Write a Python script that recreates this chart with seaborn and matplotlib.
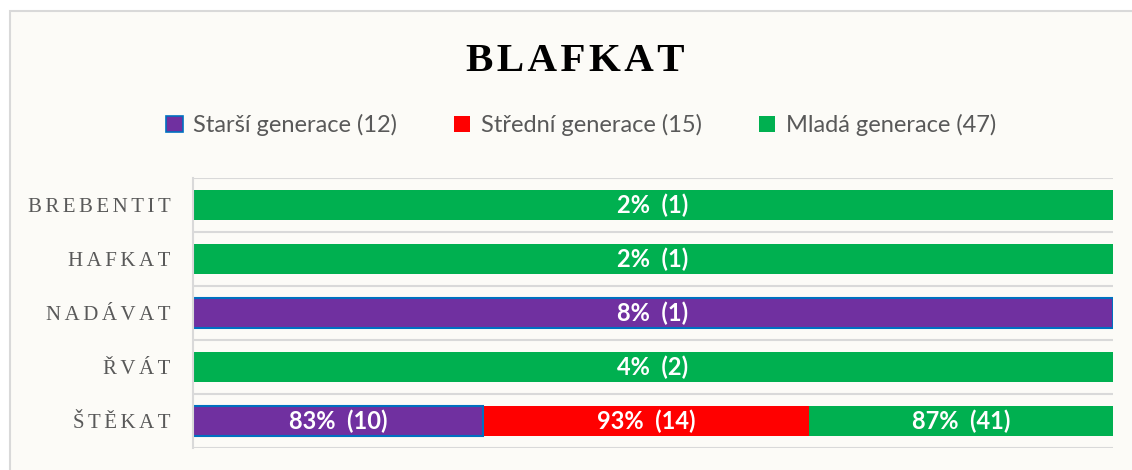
import matplotlib
matplotlib.use("Agg")
import matplotlib.pyplot as plt
from matplotlib.patches import Rectangle, Patch
import numpy as np
import pandas as pd
import seaborn as sns

# Words (rows, top to bottom) and share of each generation using them
words = ["BREBENTIT", "HAFKAT", "NADÁVAT", "ŘVÁT", "ŠTĚKAT"]
groups = ["Starší generace (12)", "Střední generace (15)", "Mladá generace (47)"]
starsi_pct = [0, 0, 8, 0, 83]
starsi_n = [0, 0, 1, 0, 10]
stredni_pct = [0, 0, 0, 0, 93]
stredni_n = [0, 0, 0, 0, 14]
mlada_pct = [2, 2, 0, 4, 87]
mlada_n = [1, 1, 0, 2, 41]

colors = ["#7030A0", "#FF0000", "#00B050"]
edge_colors = ["#0070C0", "none", "none"]

BG = "#FCFBF7"
GRID = "#D9D9D9"
TEXT_GRAY = "#595959"

sns.set_theme(style="white")
plt.rcParams["font.family"] = ["Lato", "DejaVu Sans"]

pct = np.array([starsi_pct, stredni_pct, mlada_pct], dtype=float)
cnt = np.array([starsi_n, stredni_n, mlada_n])
# 100 % stacked: each row normalised to its total
share = pct / pct.sum(axis=0) * 100
cum = np.cumsum(share, axis=0)

fig = plt.figure(figsize=(11.32, 4.70), dpi=100, facecolor="white")
fig.patches.append(Rectangle((10 / 1132, -0.05), 1.1, 1 - 11 / 470 + 0.05,
                             transform=fig.transFigure, facecolor=BG,
                             edgecolor=GRID, linewidth=1.5, zorder=-10))

ax = fig.add_axes([193 / 1132, 1 - 448 / 470, (1113 - 193) / 1132, 270 / 470])
ax.set_facecolor(BG)
ax.patch.set_alpha(0)

# Draw cumulative layers from the widest down so each segment shows its share
for i in range(2, -1, -1):
    df = pd.DataFrame({"word": words, "value": cum[i]})
    sns.barplot(data=df, x="value", y="word", orient="h", color=colors[i],
                saturation=1, width=0.555, ax=ax,
                edgecolor=edge_colors[i], linewidth=1.5 if i == 0 else 0)

# Segment labels
for i in range(3):
    for r in range(len(words)):
        if pct[i, r] > 0:
            left = cum[i, r] - share[i, r]
            ax.text(left + share[i, r] / 2, r, f"{int(pct[i, r])}%  ({cnt[i, r]})",
                    ha="center", va="center", color="white",
                    fontsize=17, fontweight="bold", family=["Lato", "DejaVu Sans"])

ax.set_xlim(0, 100)
ax.set_ylim(4.5, -0.5)
ax.set_xlabel("")
ax.set_ylabel("")
ax.set_xticks([])
ax.set_yticks(range(len(words)))
hair = "\u200a"
ax.set_yticklabels([(hair * 2).join(w) for w in words],
                   family=["Liberation Serif", "DejaVu Serif"], fontsize=15,
                   color=TEXT_GRAY)
ax.tick_params(axis="y", length=0, pad=16)
ax.set_yticks(np.arange(-0.5, len(words)), minor=True)
ax.tick_params(axis="y", which="minor", length=0)
ax.grid(axis="y", which="minor", color=GRID, linewidth=1.5)
ax.grid(axis="y", which="major", visible=False)
ax.set_axisbelow(True)
for s in ["top", "right", "bottom"]:
    ax.spines[s].set_visible(False)
ax.spines["left"].set_color(GRID)
ax.spines["left"].set_linewidth(1.5)

# Title
fig.text(575 / 1132, 1 - 71 / 470, hair.join("BLAFKAT"),
         ha="center", va="baseline", fontsize=29.5, fontweight="bold",
         family=["Liberation Serif", "DejaVu Serif"], color="black")

# Legend
handles = [Patch(facecolor=colors[0], edgecolor="#0070C0", linewidth=1.2),
           Patch(facecolor=colors[1], edgecolor="none"),
           Patch(facecolor=colors[2], edgecolor="none")]
leg = fig.legend(handles, groups, loc="center", ncol=3,
                 bbox_to_anchor=(581 / 1132, 1 - 125 / 470), frameon=False,
                 fontsize=17, handlelength=0.7, handleheight=0.7,
                 handletextpad=0.45, columnspacing=2.4, labelcolor=TEXT_GRAY)

fig.savefig("out.png", dpi=100, facecolor="white")
